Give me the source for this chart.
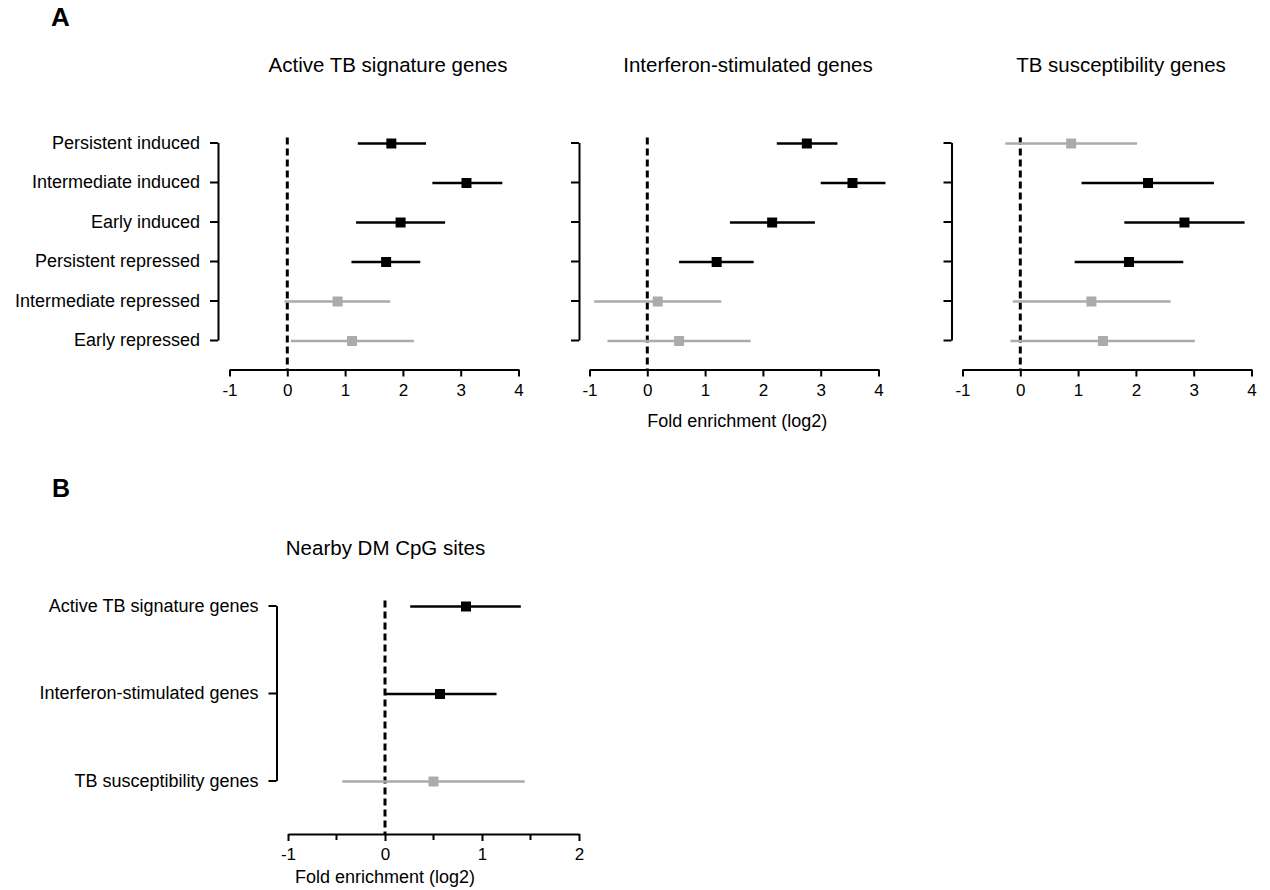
<!DOCTYPE html>
<html>
<head>
<meta charset="utf-8">
<script src="https://cdn.jsdelivr.net/npm/d3@7"></script>
<style>
  body { margin: 0; background: #fff; }
  svg { display: block; font-family: "Liberation Sans", Arial, sans-serif; }
  .axis path, .axis line { stroke: #000; stroke-width: 2; }
  .axis text { fill: #000; }
</style>
</head>
<body>
<svg id="chart" width="1270" height="890"></svg>
<script>
const d3x = window.d3;

// panel A data
const rowLabelsA = ['Persistent induced', 'Intermediate induced', 'Early induced', 'Persistent repressed', 'Intermediate repressed', 'Early repressed'];
const panelTitlesA = ['Active TB signature genes', 'Interferon-stimulated genes', 'TB susceptibility genes'];

const activeTbEst = [1.80, 3.10, 1.96, 1.71, 0.87, 1.12];
const activeTbLo = [1.22, 2.51, 1.19, 1.11, -0.05, 0.06];
const activeTbHi = [2.40, 3.72, 2.73, 2.30, 1.78, 2.19];
const activeTbSig = [true, true, true, true, false, false];

const ifnEst = [2.76, 3.55, 2.16, 1.20, 0.18, 0.55];
const ifnLo = [2.24, 3.00, 1.43, 0.55, -0.92, -0.69];
const ifnHi = [3.29, 4.12, 2.90, 1.84, 1.28, 1.79];
const ifnSig = [true, true, true, true, false, false];

const suscEst = [0.88, 2.21, 2.84, 1.88, 1.23, 1.43];
const suscLo = [-0.26, 1.06, 1.80, 0.94, -0.13, -0.17];
const suscHi = [2.02, 3.35, 3.88, 2.82, 2.60, 3.02];
const suscSig = [false, true, true, true, false, false];

const xTicksA = [-1, 0, 1, 2, 3, 4];

// panel B data
const rowLabelsB = ['Active TB signature genes', 'Interferon-stimulated genes', 'TB susceptibility genes'];
const panelTitleB = 'Nearby DM CpG sites';
const cpgEst = [0.835, 0.567, 0.50];
const cpgLo = [0.26, 0.0, -0.44];
const cpgHi = [1.40, 1.15, 1.44];
const cpgSig = [true, true, false];
const xTicksB = [-1, 0, 1, 2];
const xMinorTicksB = [-0.5, 0.5, 1.5];

const xLabel = 'Fold enrichment (log2)';

const svg = d3x.select('#chart');
const black = '#000';
const grey = '#ababab';

function drawForest(cfg) {
  const g = svg.append('g');
  const x = d3x.scaleLinear().domain(cfg.domain).range(cfg.xRange);
  const y = d3x.scalePoint().domain(cfg.labels).range(cfg.yRange);

  // bracket-style category axis
  const yAxis = d3x.axisLeft(y).tickSize(8).tickSizeOuter(0).tickPadding(10);
  if (!cfg.showLabels) yAxis.tickFormat('');
  const yG = g.append('g').attr('class', 'axis')
    .attr('transform', `translate(${cfg.bracketX},0)`)
    .call(yAxis);
  yG.selectAll('text').style('font-size', '18px');

  // x axis (plain hyphen for negatives, as in the figure)
  const xAxis = d3x.axisBottom(x).tickValues(cfg.ticks).tickSize(7).tickSizeOuter(0).tickPadding(7)
    .tickFormat((d) => String(d));
  const xG = g.append('g').attr('class', 'axis')
    .attr('transform', `translate(0,${cfg.axisY})`)
    .call(xAxis);
  xG.selectAll('text').style('font-size', '17px');
  if (cfg.minorTicks) {
    xG.selectAll('.minor').data(cfg.minorTicks).join('line')
      .attr('class', 'minor')
      .attr('x1', (d) => x(d)).attr('x2', (d) => x(d))
      .attr('y1', 0).attr('y2', 6);
  }

  // reference line at 0
  g.append('line')
    .attr('x1', x(0)).attr('x2', x(0))
    .attr('y1', cfg.yRange[0] - 5).attr('y2', cfg.axisY)
    .attr('stroke', black).attr('stroke-width', 3).attr('stroke-dasharray', '7,4');

  const rows = cfg.labels.map((label, i) => ({
    label, est: cfg.est[i], lo: cfg.lo[i], hi: cfg.hi[i], sig: cfg.sig[i],
  }));

  g.selectAll('.ci').data(rows).join('line')
    .attr('class', 'ci')
    .attr('x1', (d) => x(d.lo)).attr('x2', (d) => x(d.hi))
    .attr('y1', (d) => y(d.label) + 1).attr('y2', (d) => y(d.label) + 1)
    .attr('stroke', (d) => (d.sig ? black : grey))
    .attr('stroke-width', 2.3);

  const s = 10;
  g.selectAll('.pt').data(rows).join('rect')
    .attr('class', 'pt')
    .attr('x', (d) => x(d.est) - s / 2)
    .attr('y', (d) => y(d.label) + 1 - s / 2)
    .attr('width', s).attr('height', s)
    .attr('fill', (d) => (d.sig ? black : grey));

  g.append('text')
    .attr('x', (cfg.xRange[0] + cfg.xRange[1]) / 2 + cfg.titleShift)
    .attr('y', cfg.titleY)
    .attr('text-anchor', 'middle')
    .style('font-size', '20.5px')
    .text(cfg.title);

  if (cfg.showXLabel) {
    g.append('text')
      .attr('x', x(0) + cfg.xLabelShift)
      .attr('y', cfg.xLabelY)
      .attr('text-anchor', 'middle')
      .style('font-size', '18px')
      .text(xLabel);
  }
}

const rowYA = [142.5, 340];
const axisYA = 369.5;
const panelsA = [
  { title: panelTitlesA[0], est: activeTbEst, lo: activeTbLo, hi: activeTbHi, sig: activeTbSig, left: 229.5, bracketX: 218, showLabels: true },
  { title: panelTitlesA[1], est: ifnEst, lo: ifnLo, hi: ifnHi, sig: ifnSig, left: 589.5, bracketX: 579, showLabels: false, showXLabel: true },
  { title: panelTitlesA[2], est: suscEst, lo: suscLo, hi: suscHi, sig: suscSig, left: 962.5, bracketX: 951.5, showLabels: false },
];

panelsA.forEach((p) => {
  drawForest({
    labels: rowLabelsA,
    domain: [-1, 4],
    xRange: [p.left, p.left + 289],
    yRange: rowYA,
    axisY: axisYA,
    bracketX: p.bracketX,
    ticks: xTicksA,
    est: p.est, lo: p.lo, hi: p.hi, sig: p.sig,
    title: p.title,
    titleY: 72,
    titleShift: 14,
    showLabels: p.showLabels,
    showXLabel: p.showXLabel,
    xLabelY: 427,
    xLabelShift: 90,
  });
});

drawForest({
  labels: rowLabelsB,
  domain: [-1, 2],
  xRange: [288, 579],
  yRange: [605.5, 780.5],
  axisY: 834,
  bracketX: 276.5,
  ticks: xTicksB,
  minorTicks: xMinorTicksB,
  est: cpgEst, lo: cpgLo, hi: cpgHi, sig: cpgSig,
  title: panelTitleB,
  titleY: 555,
  titleShift: -48,
  showLabels: true,
  showXLabel: true,
  xLabelY: 883,
  xLabelShift: 0,
});

svg.append('text').attr('x', 51).attr('y', 26)
  .style('font-size', '26px').style('font-weight', 'bold').text('A');
svg.append('text').attr('x', 52).attr('y', 497)
  .style('font-size', '25px').style('font-weight', 'bold').text('B');
</script>
</body>
</html>
